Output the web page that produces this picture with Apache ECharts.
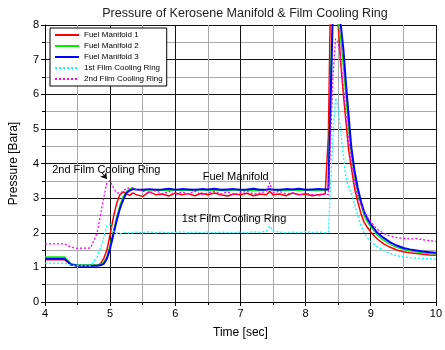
<!DOCTYPE html>
<html>
<head>
<meta charset="utf-8">
<script src="https://cdn.jsdelivr.net/npm/echarts@6/dist/echarts.min.js"></script>
<style>
  html, body { margin: 0; padding: 0; background: #fff; }
  #chart { width: 445px; height: 350px; }
</style>
</head>
<body>
<div id="chart"></div>
<script>
// sample times [sec], shared by all traces
var time = [4.0, 4.15, 4.3, 4.4, 4.5, 4.7, 4.8, 4.85, 4.9, 4.95,
  5.0, 5.05, 5.1, 5.15, 5.2, 5.25, 5.3, 5.35, 5.4, 5.5,
  5.6, 5.7, 5.8, 5.9, 6.0, 6.1, 6.2, 6.3, 6.4, 6.5,
  6.6, 6.7, 6.8, 6.9, 7.0, 7.1, 7.2, 7.3, 7.4, 7.45,
  7.5, 7.6, 7.7, 7.8, 7.9, 8.0, 8.1, 8.2, 8.3, 8.35,
  8.38, 8.42, 8.46, 8.5, 8.54, 8.58, 8.62, 8.66, 8.7, 8.75,
  8.8, 8.85, 8.9, 8.95, 9.0, 9.1, 9.2, 9.3, 9.4, 9.5,
  9.6, 9.7, 9.8, 9.9, 10.0]

// pressures [Bara]
var fuelManifold1 = [1.22, 1.22, 1.22, 1.07, 1.05, 1.05, 1.06, 1.1, 1.25, 1.5,
  1.95, 2.45, 2.85, 3.1, 3.18, 3.12, 3.08, 3.15, 3.1, 3.05,
  3.18, 3.1, 3.12, 3.06, 3.15, 3.1, 3.13, 3.07, 3.14, 3.1,
  3.15, 3.1, 3.06, 3.12, 3.1, 3.14, 3.07, 3.12, 3.1, 3.2,
  3.1, 3.12, 3.07, 3.15, 3.1, 3.12, 3.07, 3.1, 3.12, 4.8,
  8.5, 8.6, 8.4, 8.0, 6.9, 6.0, 5.2, 4.4, 3.9, 3.3,
  2.9, 2.55, 2.3, 2.15, 2.02, 1.82, 1.68, 1.58, 1.5, 1.45,
  1.42, 1.4, 1.38, 1.36, 1.35]
var fuelManifold2 = [1.3, 1.3, 1.3, 1.1, 1.07, 1.07, 1.07, 1.08, 1.15, 1.3,
  1.65, 2.05, 2.45, 2.8, 3.05, 3.2, 3.27, 3.28, 3.25, 3.22,
  3.24, 3.22, 3.23, 3.21, 3.24, 3.22, 3.23, 3.21, 3.24, 3.22,
  3.23, 3.22, 3.21, 3.24, 3.22, 3.23, 3.21, 3.22, 3.23, 3.25,
  3.22, 3.23, 3.21, 3.24, 3.22, 3.23, 3.22, 3.21, 3.23, 3.24,
  6.5, 8.6, 8.4, 8.1, 7.6, 6.8, 5.9, 5.0, 4.3, 3.6,
  3.15, 2.8, 2.5, 2.3, 2.18, 1.93, 1.78, 1.66, 1.58, 1.52,
  1.48, 1.45, 1.42, 1.4, 1.39]
var fuelManifold3 = [1.25, 1.25, 1.25, 1.08, 1.05, 1.05, 1.05, 1.06, 1.1, 1.25,
  1.55, 1.95, 2.35, 2.7, 2.95, 3.15, 3.22, 3.26, 3.25, 3.24,
  3.26, 3.24, 3.25, 3.27, 3.24, 3.26, 3.25, 3.24, 3.26, 3.25,
  3.27, 3.24, 3.25, 3.26, 3.24, 3.25, 3.27, 3.24, 3.25, 3.26,
  3.25, 3.24, 3.26, 3.25, 3.27, 3.24, 3.25, 3.26, 3.25, 3.25,
  5.5, 8.5, 8.5, 8.2, 8.0, 7.3, 6.3, 5.4, 4.5, 3.8,
  3.3, 2.9, 2.6, 2.4, 2.25, 2.0, 1.85, 1.72, 1.63, 1.56,
  1.52, 1.49, 1.46, 1.44, 1.42]
var filmRing1 = [1.12, 1.12, 1.12, 1.06, 1.05, 1.05, 1.3, 1.55, 1.85, 2.2,
  2.25, 2.05, 1.98, 1.97, 2.0, 2.02, 1.98, 2.0, 2.02, 2.0,
  2.03, 2.0, 2.02, 2.0, 2.01, 2.03, 2.0, 2.02, 2.0, 2.02,
  2.0, 2.02, 2.01, 2.0, 2.02, 2.0, 2.03, 2.01, 2.05, 2.2,
  2.05, 2.02, 2.0, 2.02, 2.0, 2.03, 2.01, 2.02, 2.0, 2.02,
  3.2, 4.8, 5.9, 5.6, 4.9, 4.2, 3.6, 3.3, 3.15, 2.85,
  2.5, 2.2, 1.98, 1.85, 1.75, 1.6, 1.48, 1.4, 1.34, 1.3,
  1.28, 1.27, 1.26, 1.25, 1.23]
var filmRing2 = [1.68, 1.68, 1.68, 1.58, 1.55, 1.56, 2.0, 2.5, 3.0, 3.45,
  3.5, 3.3, 3.15, 3.15, 3.2, 3.28, 3.3, 3.3, 3.25, 3.2,
  3.15, 3.22, 3.12, 3.2, 3.1, 3.18, 3.12, 3.2, 3.1, 3.15,
  3.2, 3.12, 3.18, 3.1, 3.15, 3.2, 3.12, 3.15, 3.2, 3.45,
  3.15, 3.2, 3.12, 3.15, 3.1, 3.15, 3.1, 3.08, 3.12, 3.1,
  4.5, 6.5, 7.6, 7.5, 7.0, 6.2, 5.4, 4.7, 4.1, 3.5,
  3.05, 2.8, 2.6, 2.45, 2.32, 2.1, 1.98, 1.9, 1.86, 1.84,
  1.82, 1.83, 1.8, 1.77, 1.75]

var names = ['Fuel Manifold 1', 'Fuel Manifold 2', 'Fuel Manifold 3', '1st Film Cooling Ring', '2nd Film Cooling Ring']
var values = [fuelManifold1, fuelManifold2, fuelManifold3, filmRing1, filmRing2]
var colors = ['#ff0000', '#00ee00', '#0000ff', '#00ffff', '#ff00ff']
var widths = [1.5, 1.3, 2, 1.3, 1.3]
var types = ['solid', 'solid', 'solid', [2, 2], [2, 2]]

function pairs(v) {
  return time.map(function(t, i) { return [t, v[i]] })
}

var chart = echarts.init(document.getElementById('chart'))
var font = 'Arial, "Liberation Sans", sans-serif'

var series = names.map(function(n, i) {
  return {
    name: n,
    type: 'line',
    symbol: 'none',
    animation: false,
    data: pairs(values[i]),
    lineStyle: { color: colors[i], width: widths[i], type: types[i] },
    itemStyle: { color: colors[i] }
  }
})

// arrow pointing at the 2nd film cooling ring overshoot
series[4].markLine = {
  silent: true,
  symbol: ['none', 'arrow'],
  symbolSize: 6,
  label: { show: false },
  lineStyle: { color: '#000', type: 'solid', width: 1 },
  data: [[{ coord: [4.87, 3.74] }, { coord: [4.95, 3.55] }]]
}

var option = {
  animation: false,
  title: {
    text: 'Pressure of Kerosene Manifold & Film Cooling Ring',
    left: 240,
    textAlign: 'center',
    top: 2,
    textStyle: { fontFamily: font, fontSize: 12.5, fontWeight: 'normal', color: '#222' }
  },
  legend: {
    data: names,
    orient: 'vertical',
    left: 50,
    top: 28,
    itemWidth: 24,
    itemHeight: 8,
    itemGap: 3,
    padding: [3, 4, 3, 4],
    backgroundColor: '#fff',
    borderColor: '#000',
    borderWidth: 1,
    itemStyle: { opacity: 0 },
    textStyle: { fontFamily: font, fontSize: 8, color: '#000' }
  },
  grid: { left: 45, right: 9, top: 25, bottom: 48, containLabel: false },
  xAxis: {
    type: 'value',
    min: 4,
    max: 10,
    interval: 1,
    name: 'Time [sec]',
    nameLocation: 'middle',
    nameGap: 25,
    nameTextStyle: { fontFamily: font, fontSize: 12, color: '#000' },
    axisLine: { show: true, onZero: false, lineStyle: { color: '#000' } },
    axisTick: { show: true, length: 4, lineStyle: { color: '#000' } },
    minorTick: { show: true, splitNumber: 2, length: 3, lineStyle: { color: '#000' } },
    axisLabel: { fontFamily: font, fontSize: 11, color: '#000', margin: 6 },
    splitLine: { show: true, lineStyle: { color: '#111', width: 1 } },
    minorSplitLine: { show: true, lineStyle: { color: '#aaa', width: 1 } }
  },
  yAxis: {
    type: 'value',
    min: 0,
    max: 8,
    interval: 1,
    name: 'Pressure [Bara]',
    nameLocation: 'middle',
    nameGap: 25,
    nameTextStyle: { fontFamily: font, fontSize: 12, color: '#000' },
    axisLine: { show: true, onZero: false, lineStyle: { color: '#000' } },
    axisTick: { show: true, length: 4, lineStyle: { color: '#000' } },
    minorTick: { show: true, splitNumber: 2, length: 3, lineStyle: { color: '#000' } },
    axisLabel: { fontFamily: font, fontSize: 11, color: '#000', margin: 6 },
    splitLine: { show: true, lineStyle: { color: '#111', width: 1 } },
    minorSplitLine: { show: true, lineStyle: { color: '#aaa', width: 1 } }
  },
  series: series
}
chart.setOption(option)

// text labels placed at data coordinates
var notes = [
  { text: '2nd Film Cooling Ring', at: [4.11, 3.8] },
  { text: 'Fuel Manifold', at: [6.42, 3.62] },
  { text: '1st Film Cooling Ring', at: [6.1, 2.4] }
]
chart.setOption({
  graphic: notes.map(function(n) {
    var p = chart.convertToPixel({ gridIndex: 0 }, n.at)
    return {
      type: 'text',
      x: p[0],
      y: p[1],
      style: { text: n.text, fill: '#000', font: '11px ' + font, textVerticalAlign: 'middle' }
    }
  })
})
</script>
</body>
</html>
